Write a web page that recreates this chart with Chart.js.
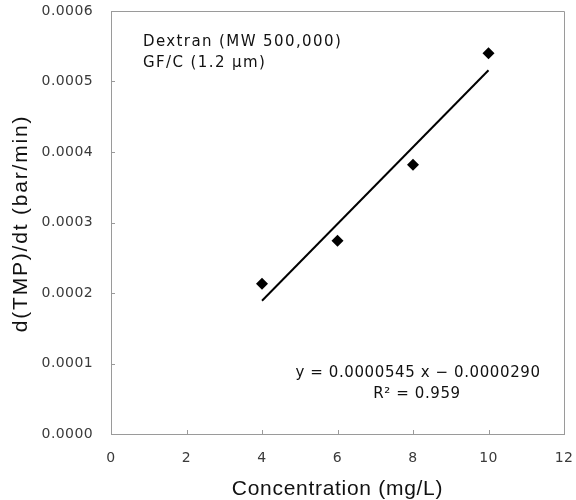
<!DOCTYPE html>
<html>
<head>
<meta charset="utf-8">
<script src="https://cdn.jsdelivr.net/npm/chart.js@4.4.1/dist/chart.umd.min.js"></script>
<style>
  html, body { margin: 0; padding: 0; background: #fff; }
  #wrap { width: 576px; height: 500px; position: relative; }
</style>
</head>
<body>
<div id="wrap"><canvas id="chart"></canvas></div>
<script>
// data
const concentration = [4, 6, 8, 10];           // mg/L
const dTMPdt = [0.000213, 0.000274, 0.000382, 0.000540]; // bar/min
// regression line end points (y = 0.0000545 x - 0.0000290)
const fitX = [4, 10];
const fitY = [0.000189, 0.000516];

const xTitle = 'Concentration (mg/L)';
const yTitle = 'd(TMP)/dt (bar/min)';
const noteLines = ['Dextran (MW 500,000)', 'GF/C (1.2 µm)'];
const eqLines = ['y = 0.0000545 x \u2212 0.0000290', 'R\u00B2 = 0.959'];

const FONT = '"Liberation Sans", Arial, sans-serif';
const SMALL_FONT = '"DejaVu Sans", sans-serif';
const AXIS_COLOR = '#9a9a9a';

// frame, inward ticks and texts
const extras = {
    id: 'extras',
    beforeDraw(chart) {
        chart.ctx.letterSpacing = '0.4px';
    },
    afterDraw(chart) {
        const ctx = chart.ctx;
        const a = chart.chartArea;
        const xs = chart.scales.x, ys = chart.scales.y;
        ctx.save();
        ctx.strokeStyle = AXIS_COLOR;
        ctx.lineWidth = 1;
        ctx.beginPath();
        ctx.moveTo(a.left, a.top + 0.5);
        ctx.lineTo(a.right + 0.5, a.top + 0.5);
        ctx.lineTo(a.right + 0.5, a.bottom);
        ctx.stroke();

        // inward tick marks
        ctx.beginPath();
        xs.ticks.forEach(t => {
            if (t.value <= xs.min || t.value >= xs.max) return;
            const px = Math.round(xs.getPixelForValue(t.value)) + 0.5;
            ctx.moveTo(px, a.bottom);
            ctx.lineTo(px, a.bottom - 4);
        });
        ys.ticks.forEach(t => {
            if (t.value <= ys.min || t.value >= ys.max - 1e-9) return;
            const py = Math.round(ys.getPixelForValue(t.value)) + 0.5;
            ctx.moveTo(a.left, py);
            ctx.lineTo(a.left + 4, py);
        });
        ctx.stroke();

        // notes
        ctx.fillStyle = '#111';
        ctx.font = '15px ' + SMALL_FONT;
        ctx.letterSpacing = '1.4px';
        ctx.textAlign = 'left';
        ctx.textBaseline = 'alphabetic';
        ctx.fillText(noteLines[0], a.left + 32, a.top + 35);
        ctx.fillText(noteLines[1], a.left + 32, a.top + 56);

        ctx.letterSpacing = '0.6px';
        ctx.textAlign = 'center';
        ctx.fillText(eqLines[0], a.left + 307, a.top + 366);
        ctx.fillText(eqLines[1], a.left + 306, a.top + 387);

        // axis titles
        ctx.font = '21px ' + FONT;
        ctx.letterSpacing = '0.7px';
        ctx.fillText(xTitle, (a.left + a.right) / 2, 495);
        ctx.letterSpacing = '1.8px';
        ctx.save();
        ctx.translate(27, (a.top + a.bottom) / 2 + 1);
        ctx.rotate(-Math.PI / 2);
        ctx.fillText(yTitle, 0, 0);
        ctx.restore();
        ctx.restore();
    }
};

const ctx = document.getElementById('chart').getContext('2d');
const chart = new Chart(ctx, {
    type: 'scatter',
    data: {
        datasets: [
            {
                label: 'Data',
                data: concentration.map((x, i) => ({ x: x, y: dTMPdt[i] })),
                pointStyle: 'rectRot',
                pointRadius: 6,
                backgroundColor: '#000',
                borderColor: '#000',
                borderWidth: 0
            },
            {
                label: 'Fit',
                data: fitX.map((x, i) => ({ x: x, y: fitY[i] })),
                showLine: true,
                pointRadius: 0,
                borderColor: '#000',
                borderWidth: 2
            }
        ]
    },
    options: {
        responsive: true,
        maintainAspectRatio: false,
        animation: false,
        layout: { padding: { left: 0, top: 11, right: 12, bottom: 0 } },
        plugins: {
            legend: { display: false },
            tooltip: { enabled: false }
        },
        scales: {
            x: {
                type: 'linear',
                min: 0,
                max: 12,
                ticks: {
                    stepSize: 2,
                    padding: 16,
                    color: '#3a3a3a',
                    font: { family: SMALL_FONT, size: 14 }
                },
                grid: { display: false, drawTicks: false },
                border: { display: true, color: AXIS_COLOR, width: 1 },
                afterFit: s => {
                    s.height = 66;
                    s.paddingLeft = 0;
                    s.paddingRight = 0;
                }
            },
            y: {
                type: 'linear',
                min: 0,
                max: 0.0006,
                ticks: {
                    stepSize: 0.0001,
                    padding: 18,
                    color: '#3a3a3a',
                    font: { family: SMALL_FONT, size: 14 },
                    callback: v => v.toFixed(4)
                },
                grid: { display: false, drawTicks: false },
                border: { display: true, color: AXIS_COLOR, width: 1 },
                afterFit: s => {
                    s.width = 111;
                    s.paddingTop = 0;
                    s.paddingBottom = 0;
                }
            }
        }
    },
    plugins: [extras]
});
</script>
</body>
</html>
